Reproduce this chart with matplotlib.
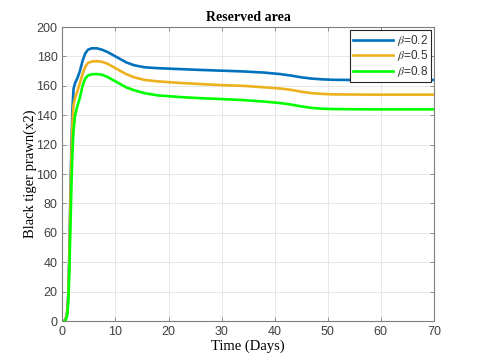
import matplotlib
matplotlib.use("Agg")
import matplotlib.pyplot as plt

# -----------------------------
# Data
# -----------------------------
t = [0, 0.3, 0.6, 0.9, 1.1, 1.3, 1.5, 1.7, 1.9, 2.1, 2.4, 2.8, 3.3, 3.8, 4.3, 4.8,
     5.5, 6.5, 7.5, 8.5, 9.5, 10.5, 12, 13.5, 15.5, 18, 22, 26, 30, 34, 38, 41,
     43, 45, 47, 49, 51, 54, 58, 64, 70]
beta_02 = [0, 0, 1, 6, 18, 45, 85, 120, 145, 158, 162, 165, 170, 177, 182, 184.5,
           185.5, 185.5, 184.5, 183, 181, 179, 176, 174, 172.6, 172, 171.4, 170.8,
           170.3, 169.8, 169, 168, 167, 165.8, 164.9, 164.4, 164.1, 164, 164, 164, 164]
beta_05 = [0, 0, 1, 6, 17, 42, 80, 113, 135, 147, 152, 156, 162, 168, 173, 175.5,
           176.5, 176.8, 176.3, 175, 173, 171, 168, 165.8, 164, 163, 162, 161.2,
           160.5, 160, 159, 158.2, 157.3, 156, 155, 154.5, 154.2, 154.1, 154, 154, 154]
beta_08 = [0, 0, 0.5, 4, 12, 32, 62, 92, 115, 130, 140, 146, 152, 160, 165, 167,
           167.8, 168, 167.5, 166, 164, 162, 159, 157, 155, 153.5, 152.4, 151.6,
           151, 150.3, 149.3, 148.3, 147.3, 146, 145, 144.4, 144.2, 144.1, 144, 144, 144]
labels = [r"$\beta$=0.2", r"$\beta$=0.5", r"$\beta$=0.8"]
colors = ["#0072BD", "#EDB120", "#00FF00"]

plt.rcParams.update({
    "font.family": "Liberation Sans",
    "mathtext.fontset": "stix",
})

fig = plt.figure(figsize=(4.8, 3.6), dpi=100)
ax = fig.add_axes([0.13, 0.108, 0.774, 0.817])

for y, lab, c in zip([beta_02, beta_05, beta_08], labels, colors):
    ax.plot(t, y, color=c, linewidth=1.9, label=lab)

ax.set_xlim(0, 70)
ax.set_ylim(0, 200)
ax.set_xticks(range(0, 71, 10))
ax.set_yticks(range(0, 201, 20))
ax.grid(True, color="#e3e3e3", linewidth=0.6)
ax.set_axisbelow(True)
ax.tick_params(direction="in", top=True, right=True, length=3,
               labelsize=9, colors="#7f7f7f", labelcolor="#404040", width=0.6)
for s in ax.spines.values():
    s.set_color("#7f7f7f")
    s.set_linewidth(0.8)

ax.set_title("Reserved area", fontfamily="Liberation Serif", fontweight="bold",
             fontsize=10, pad=4)
ax.set_xlabel("Time (Days)", fontfamily="Liberation Serif", fontsize=10.5, labelpad=1)
ax.set_ylabel("Black tiger prawn(x2)", fontfamily="Liberation Serif", fontsize=10.5,
              labelpad=0)

leg = ax.legend(loc="upper right", fontsize=8.5, fancybox=False, framealpha=1,
                edgecolor="#262626", borderaxespad=0.25, handlelength=3.4,
                handletextpad=0.3, labelspacing=0.05, borderpad=0.25)
leg.get_frame().set_linewidth(0.8)
for txt in leg.get_texts():
    txt.set_color("#333333")

fig.savefig("out.png", dpi=100, facecolor="white")
